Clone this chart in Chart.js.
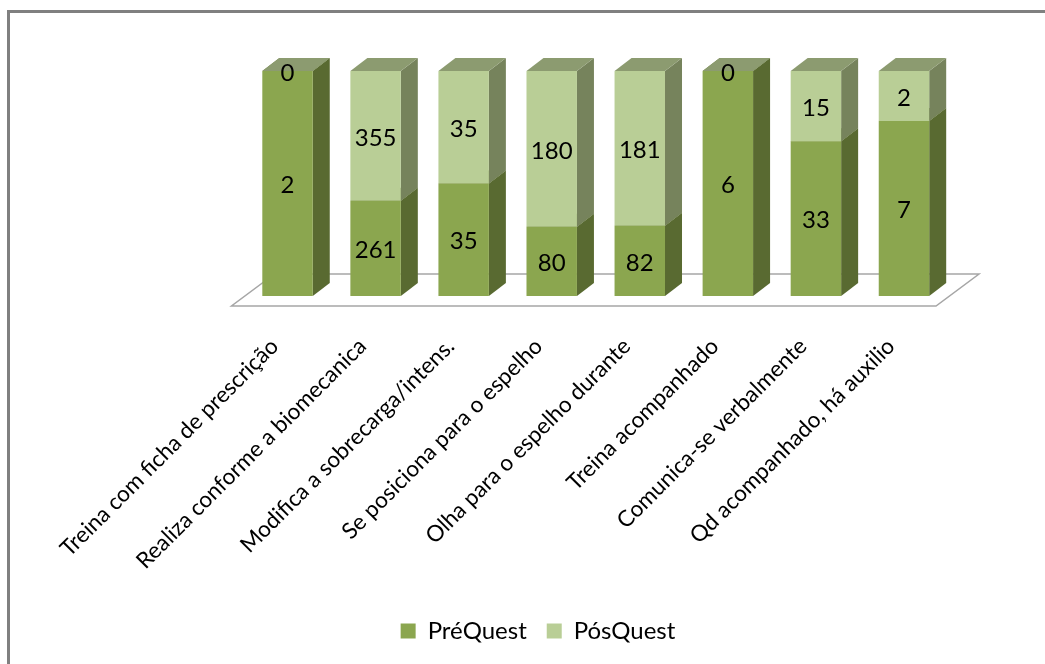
<!DOCTYPE html>
<html>
<head>
<meta charset="utf-8">
<title>PréQuest e PósQuest</title>
<script src="https://cdn.jsdelivr.net/npm/chart.js@4/dist/chart.umd.min.js"></script>
<style>
    html, body { margin: 0; padding: 0; background: #fff; overflow: hidden; }
    #wrap { position: relative; width: 1045px; height: 664px; }
</style>
</head>
<body>
<div id="wrap"><canvas id="barChart" width="1045" height="664"></canvas></div>
<script>
var categories = [
    'Treina com ficha de prescrição',
    'Realiza conforme a biomecanica',
    'Modifica a sobrecarga/intens.',
    'Se posiciona para o espelho',
    'Olha para o espelho durante',
    'Treina acompanhado',
    'Comunica-se verbalmente',
    'Qd acompanhado, há auxilio'
];
var preQuest = [2, 261, 35, 80, 82, 6, 33, 7];
var posQuest = [0, 355, 35, 180, 181, 0, 15, 2];

var seriesNames = ['PréQuest', 'PósQuest'];
var frontColors = ['#8ba64f', '#b9ce96'];
var sideColors = ['#596a31', '#76835c'];
var topColors = ['#6f8240', '#8c9b70'];

var fontName = 'Lato, "Open Sans", sans-serif';
var depthX = 17, depthY = 13;

// 100% stacked: each column is the share of the two answers
function share(values, other) {
    return values.map(function (v, i) { return v / (v + other[i]) * 100; });
}

// extruded faces and the floor, taken from the bar elements and the scales
var box3d = {
    id: 'box3d',
    beforeDraw: function (chart) {
        var c = chart.ctx;
        c.save();
        c.fillStyle = '#808080';
        c.fillRect(7, 10, 3, 654);
        c.fillRect(7, 10, 1038, 3);
        c.restore();
    },
    beforeDatasetsDraw: function (chart) {
        var c = chart.ctx;
        var x = chart.scales.x, y = chart.scales.y;
        var base = y.getPixelForValue(0);

        c.save();
        c.beginPath();
        c.moveTo(x.left - 12, base + 10);
        c.lineTo(x.right - 12, base + 10);
        c.lineTo(x.right + 31, base - 22);
        c.lineTo(x.left + 31, base - 22);
        c.closePath();
        c.fillStyle = '#fff';
        c.fill();
        c.strokeStyle = '#a6a6a6';
        c.lineWidth = 1.5;
        c.stroke();

        chart.data.datasets.forEach(function (ds, d) {
            chart.getDatasetMeta(d).data.forEach(function (bar) {
                var right = bar.x + bar.width / 2;
                var left = bar.x - bar.width / 2;
                // side face
                c.fillStyle = sideColors[d];
                c.beginPath();
                c.moveTo(right, bar.y);
                c.lineTo(right + depthX, bar.y - depthY);
                c.lineTo(right + depthX, bar.base - depthY);
                c.lineTo(right, bar.base);
                c.closePath();
                c.fill();
                // top face
                c.fillStyle = topColors[d];
                c.beginPath();
                c.moveTo(left, bar.y);
                c.lineTo(left + depthX, bar.y - depthY);
                c.lineTo(right + depthX, bar.y - depthY);
                c.lineTo(right, bar.y);
                c.closePath();
                c.fill();
            });
        });
        c.restore();
    },
    afterDatasetsDraw: function (chart) {
        var c = chart.ctx;
        var raw = [preQuest, posQuest];
        c.save();
        c.font = '24px ' + fontName;
        c.fillStyle = '#000';
        c.textAlign = 'center';
        c.textBaseline = 'middle';
        chart.data.datasets.forEach(function (ds, d) {
            chart.getDatasetMeta(d).data.forEach(function (bar, i) {
                c.fillText(raw[d][i], bar.x, (bar.y + bar.base) / 2 + 2);
            });
        });
        c.restore();
    }
};

var ctx = document.getElementById('barChart').getContext('2d');
var myChart = new Chart(ctx, {
    type: 'bar',
    data: {
        labels: categories,
        datasets: [{
            label: seriesNames[0],
            data: share(preQuest, posQuest),
            backgroundColor: frontColors[0],
            categoryPercentage: 1,
            barPercentage: 0.573
        }, {
            label: seriesNames[1],
            data: share(posQuest, preQuest),
            backgroundColor: frontColors[1],
            categoryPercentage: 1,
            barPercentage: 0.573
        }]
    },
    options: {
        responsive: false,
        animation: false,
        layout: { padding: { left: 128, right: 97, top: 71, bottom: 11 } },
        plugins: {
            tooltip: { enabled: false },
            legend: {
                position: 'bottom',
                labels: {
                    font: { family: fontName, size: 24 },
                    color: '#000',
                    boxWidth: 15,
                    boxHeight: 15,
                    padding: 20
                }
            }
        },
        scales: {
            x: {
                stacked: true,
                grid: { display: false, drawTicks: false },
                border: { display: false },
                afterFit: function (scale) { scale.height = 303; },
                ticks: {
                    autoSkip: false,
                    minRotation: 45,
                    maxRotation: 45,
                    padding: 37,
                    labelOffset: -13,
                    color: '#000',
                    font: { family: fontName, size: 22.5 }
                }
            },
            y: {
                stacked: true,
                min: 0,
                max: 100,
                grid: { display: false, drawTicks: false },
                border: { display: false },
                ticks: { display: false },
                afterFit: function (scale) { scale.width = 115.5; }
            }
        }
    },
    plugins: [box3d]
});
</script>
</body>
</html>
